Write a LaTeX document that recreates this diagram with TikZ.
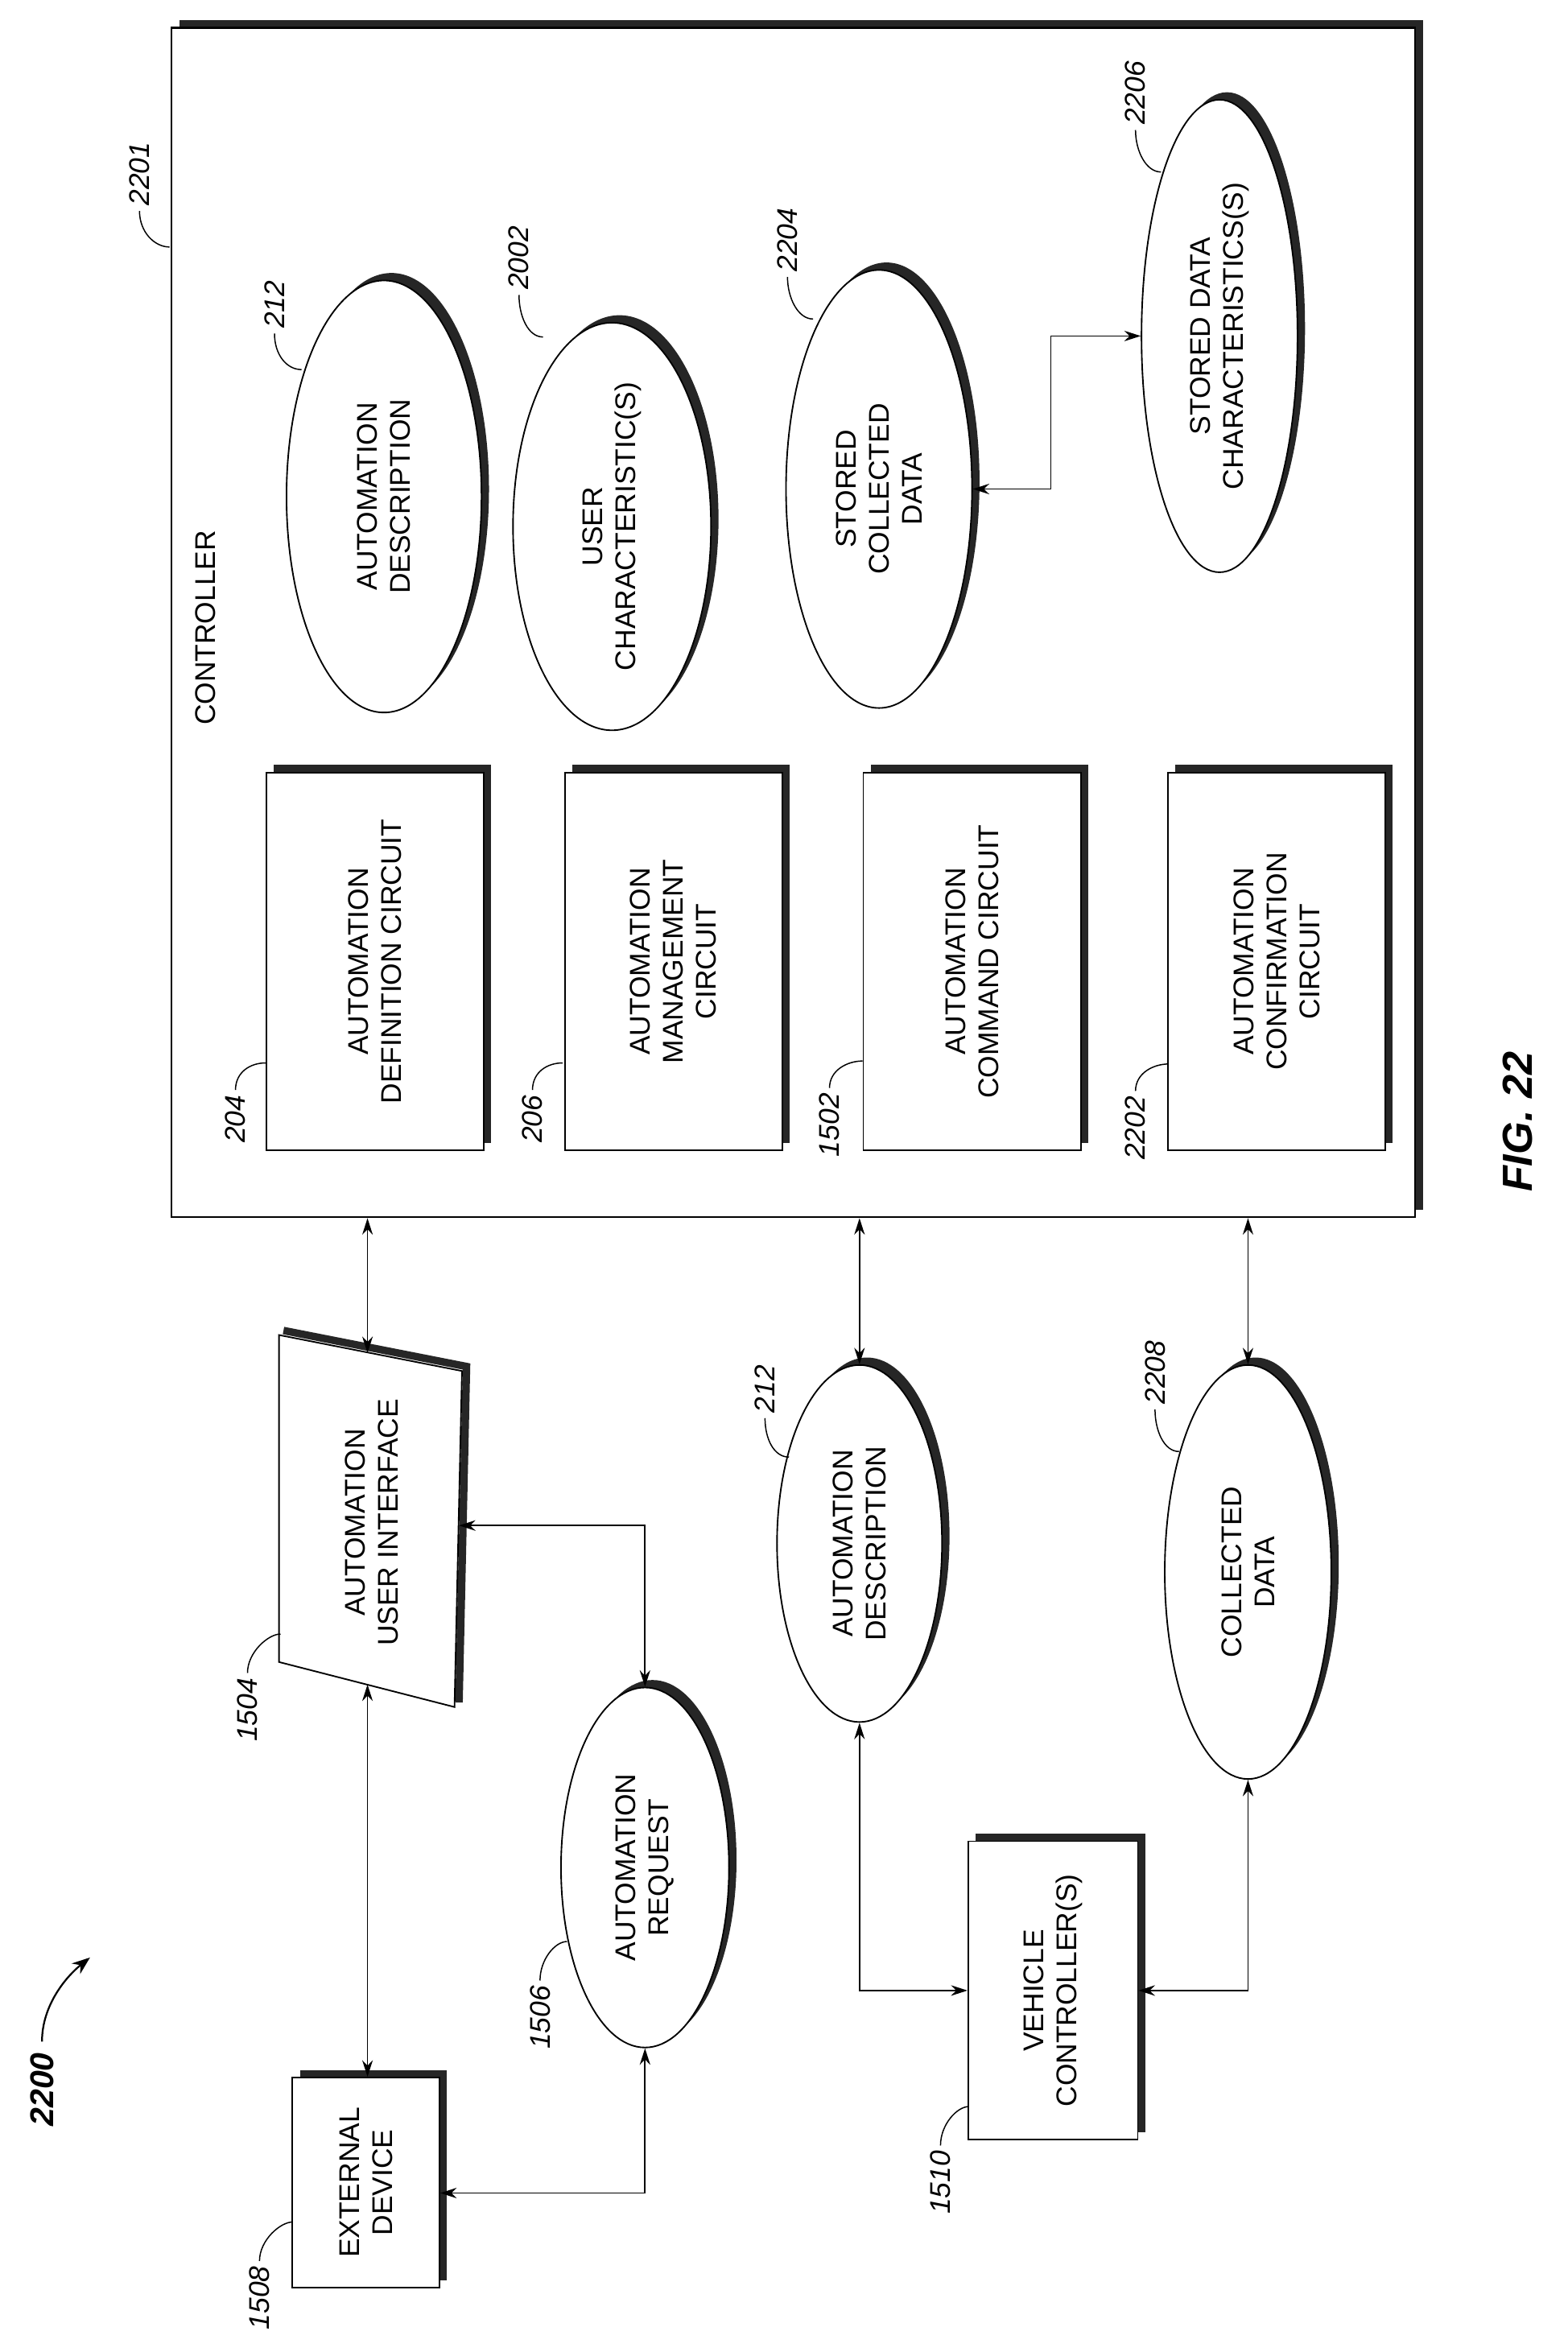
\documentclass[tikz,border=0pt]{standalone}
\usepackage{fontspec}
\setmainfont{Liberation Sans}
\usetikzlibrary{shapes.geometric,shadows,arrows.meta,calc}
\tikzset{
  txt/.style={font=\fontsize{19}{22}\selectfont, align=center, rotate=90},
  shd/.style={drop shadow={shadow xshift=5pt, shadow yshift=5pt, fill=black!85, opacity=1}},
  blk/.style={txt, draw, line width=1pt, fill=white, shd},
  oval/.style={txt, ellipse, draw, line width=1pt, fill=white, shd, inner sep=0pt},
  num/.style={font=\fontsize{19}{22}\selectfont\itshape, rotate=90},
  lead/.style={line width=0.8pt},
  link/.style={line width=0.9pt, {Stealth[length=11pt,width=7pt]}-{Stealth[length=11pt,width=7pt]}}
}
\begin{document}
\begin{tikzpicture}[x=1pt,y=1pt,yscale=-1]
	\useasboundingbox (0,0) rectangle (1045,1568);

	% controller
	\node [draw, line width=1.2pt, fill=white, minimum width=829pt, minimum height=793pt, shd] (ctrl) at (529,415) {};
	\node [txt, anchor=south west] (ctrllbl) at (147,487) {CONTROLLER};
	\node [num] (n2201) at (93,116) {2201};
	\draw [lead] (n2201.west) .. controls +(0,14) and +(-10,0) .. ++(20,24);

	% circuits
	\node [blk, minimum width=252pt, minimum height=145pt] (b204) at (250,641) {AUTOMATION\\DEFINITION CIRCUIT};
	\node [blk, minimum width=252pt, minimum height=145pt] (b206) at (449,641) {AUTOMATION\\MANAGEMENT\\CIRCUIT};
	\node [blk, minimum width=252pt, minimum height=145pt] (b1502) at (648,641) {AUTOMATION\\COMMAND CIRCUIT};
	\node [blk, minimum width=252pt, minimum height=145pt] (b2202) at (851,641) {AUTOMATION\\CONFIRMATION\\CIRCUIT};

	% stored items
	\node [oval, minimum width=288pt, minimum height=130pt] (e212) at (256,331) {AUTOMATION\\DESCRIPTION};
	\node [oval, minimum width=251pt, minimum height=132pt] (e2002) at (408,351) {USER\\CHARACTERISTIC(S)};
	\node [oval, minimum width=292pt, minimum height=124pt] (e2204) at (586,326) {STORED\\COLLECTED\\DATA};
	\node [oval, minimum width=315pt, minimum height=104pt] (e2206) at (813,224) {STORED DATA\\CHARACTERISTICS(S)};
	\draw [link] (e2204.south) -- ++(52,0) |- (e2206.north);

	% user interface
	\coordinate (uitl) at (186,890);
	\coordinate (uitr) at (308,914);
	\coordinate (uibr) at (303,1138);
	\coordinate (uibl) at (186,1108);
	\draw [line width=5pt, black!85] ($(uitl)+(3,-3)$) -- ($(uitr)+(3,-3)$) -- ($(uibr)+(3,-3)$);
	\draw [line width=1pt, fill=white] (uitl) -- (uitr) -- (uibr) -- (uibl) -- cycle;
	\node [txt] (ui) at (248,1015) {AUTOMATION\\USER INTERFACE};
	\coordinate (uitop) at (245,902);
	\coordinate (uibot) at (245,1123);
	\coordinate (uiright) at (306,1017);

	\node [oval, minimum width=240pt, minimum height=112pt] (e1506) at (430,1245) {AUTOMATION\\REQUEST};
	\node [blk, minimum width=140pt, minimum height=98pt] (b1508) at (244,1455) {EXTERNAL\\DEVICE};
	\node [oval, minimum width=238pt, minimum height=110pt] (e212b) at (573,1029) {AUTOMATION\\DESCRIPTION};
	\node [oval, minimum width=276pt, minimum height=111pt] (e2208) at (832,1048) {COLLECTED\\DATA};
	\node [blk, minimum width=199pt, minimum height=113pt] (b1510) at (702,1327) {VEHICLE\\CONTROLLER(S)};

	\draw [link] (ctrl.south -| uitop) -- (uitop);
	\draw [link] (uibot) -- (uibot |- b1508.east);
	\draw [link] (uiright) -| (e1506.east);
	\draw [link] (e1506.west) |- ($(b1508.south)+(0,7)$);
	\draw [link] (ctrl.south -| e212b.east) -- (e212b.east);
	\draw [link] (e212b.west) |- (b1510.north);
	\draw [link] (ctrl.south -| e2208.east) -- (e2208.east);
	\draw [link] (e2208.west) |- (b1510.south);

	% reference numerals
	\node [num] (n204) at (157,746) {204};
	\draw [lead] (n204.east) .. controls +(0,-12) and +(-10,0) .. ++(20,-18);
	\node [num] (n206) at (355,746) {206};
	\draw [lead] (n206.east) .. controls +(0,-12) and +(-10,0) .. ++(20,-18);
	\node [num] (n1502) at (553,750) {1502};
	\draw [lead] (n1502.east) .. controls +(0,-12) and +(-10,0) .. ++(22,-18);
	\node [num] (n2202) at (757,752) {2202};
	\draw [lead] (n2202.east) .. controls +(0,-12) and +(-10,0) .. ++(22,-18);
	\node [num] (n212) at (183,203) {212};
	\draw [lead] (n212.west) .. controls +(0,14) and +(-10,0) .. ++(18,24);
	\node [num] (n2002) at (346,172) {2002};
	\draw [lead] (n2002.west) .. controls +(0,14) and +(-10,0) .. ++(16,28);
	\node [num] (n2204) at (525,160) {2204};
	\draw [lead] (n2204.west) .. controls +(0,14) and +(-10,0) .. ++(17,28);
	\node [num] (n2206) at (757,62) {2206};
	\draw [lead] (n2206.west) .. controls +(0,14) and +(-10,0) .. ++(17,28);
	\node [num] (n1504) at (165,1140) {1504};
	\draw [lead] (n1504.east) .. controls +(0,-14) and +(-8,0) .. ++(22,-26);
	\node [num] (n1506) at (360,1345) {1506};
	\draw [lead] (n1506.east) .. controls +(0,-14) and +(-8,0) .. ++(18,-26);
	\node [num] (n1508) at (173,1532) {1508};
	\draw [lead] (n1508.east) .. controls +(0,-14) and +(-8,0) .. ++(22,-26);
	\node [num] (n1510) at (627,1455) {1510};
	\draw [lead] (n1510.east) .. controls +(0,-14) and +(-8,0) .. ++(19,-26);
	\node [num] (n212b) at (510,926) {212};
	\draw [lead] (n212b.west) .. controls +(0,14) and +(-10,0) .. ++(16,26);
	\node [num] (n2208) at (770,915) {2208};
	\draw [lead] (n2208.west) .. controls +(0,14) and +(-10,0) .. ++(16,28);

	% figure labels
	\node [num, font=\fontsize{22}{26}\selectfont\bfseries\itshape] (n2200) at (28,1393) {2200};
	\draw [line width=1.2pt, -{Stealth[length=12pt,width=9pt]}] (n2200.east) ++(0,-4) .. controls +(0,-25) and +(-15,12) .. ++(32,-56);
	\node [num, font=\fontsize{28}{32}\selectfont\bfseries\itshape] (fig) at (1012,748) {FIG. 22};
\end{tikzpicture}
\end{document}
